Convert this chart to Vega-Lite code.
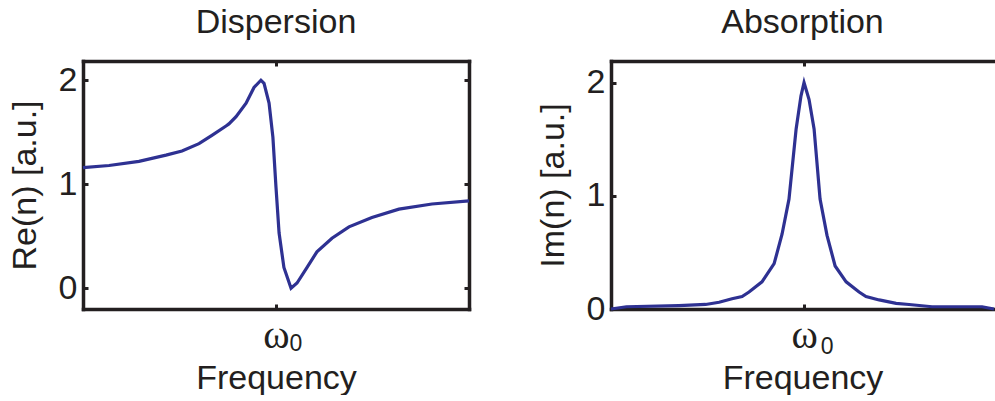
{
  "$schema": "https://vega.github.io/schema/vega-lite/v6.json",
  "autosize": {"type": "pad"},
  "padding": {"left": 8, "top": 5, "right": 0, "bottom": 0},
  "bounds": "flush",
  "spacing": 142,
  "datasets": {
    "re": [
      {"f": -1.0, "v": 1.16}, {"f": -0.865, "v": 1.18}, {"f": -0.71, "v": 1.22}, {"f": -0.57, "v": 1.28},
      {"f": -0.487, "v": 1.32}, {"f": -0.399, "v": 1.39}, {"f": -0.332, "v": 1.47}, {"f": -0.259, "v": 1.56},
      {"f": -0.244, "v": 1.58}, {"f": -0.207, "v": 1.65}, {"f": -0.155, "v": 1.78}, {"f": -0.114, "v": 1.93},
      {"f": -0.078, "v": 2.0}, {"f": -0.062, "v": 1.97}, {"f": -0.036, "v": 1.78}, {"f": -0.016, "v": 1.45},
      {"f": 0.0, "v": 0.97}, {"f": 0.016, "v": 0.53}, {"f": 0.041, "v": 0.2}, {"f": 0.078, "v": 0.0},
      {"f": 0.109, "v": 0.05}, {"f": 0.161, "v": 0.2}, {"f": 0.212, "v": 0.35}, {"f": 0.29, "v": 0.48},
      {"f": 0.378, "v": 0.59}, {"f": 0.497, "v": 0.68}, {"f": 0.637, "v": 0.76}, {"f": 0.808, "v": 0.81},
      {"f": 1.0, "v": 0.84}
    ],
    "im": [
      {"f": -1.0, "v": 0.0}, {"f": -0.92, "v": 0.02}, {"f": -0.648, "v": 0.03}, {"f": -0.51, "v": 0.04},
      {"f": -0.44, "v": 0.06}, {"f": -0.373, "v": 0.09}, {"f": -0.321, "v": 0.11}, {"f": -0.285, "v": 0.15},
      {"f": -0.218, "v": 0.24}, {"f": -0.155, "v": 0.4}, {"f": -0.114, "v": 0.66}, {"f": -0.078, "v": 0.97},
      {"f": -0.041, "v": 1.59}, {"f": -0.016, "v": 1.88}, {"f": 0.0, "v": 2.0}, {"f": 0.026, "v": 1.85},
      {"f": 0.052, "v": 1.59}, {"f": 0.083, "v": 0.97}, {"f": 0.119, "v": 0.65}, {"f": 0.161, "v": 0.38},
      {"f": 0.218, "v": 0.24}, {"f": 0.285, "v": 0.15}, {"f": 0.321, "v": 0.11}, {"f": 0.389, "v": 0.08},
      {"f": 0.477, "v": 0.05}, {"f": 0.544, "v": 0.04}, {"f": 0.663, "v": 0.02}, {"f": 0.922, "v": 0.02},
      {"f": 0.984, "v": 0.0}
    ],
    "sub": [{"f": 0, "s": "0"}]
  },
  "hconcat": [
    {
      "width": 386,
      "height": 248,
      "title": {"text": "Dispersion", "offset": 20},
      "layer": [
        {
          "data": {"name": "re"},
          "mark": {"type": "line", "color": "#2e3192", "strokeWidth": 3.2},
          "encoding": {
            "x": {"field": "f", "type": "quantitative",
              "scale": {"domain": [-1, 1], "nice": false, "zero": false},
              "axis": {"orient": "bottom", "values": [0], "labelExpr": "'ω'", "labelFont": "Liberation Serif", "labelFontSize": 40, "labelBaseline": "alphabetic", "labelPadding": 43, "labelDx": -6, "title": "Frequency", "titlePadding": 6}},
            "y": {"field": "v", "type": "quantitative",
              "scale": {"domain": [-0.2, 2.185], "nice": false, "zero": false},
              "axis": {"orient": "left", "values": [0, 1, 2], "labelPadding": 11, "title": "Re(n) [a.u.]", "titlePadding": 16}}
          }
        },
        {
          "data": {"name": "sub"},
          "mark": {"type": "text", "font": "Liberation Sans", "fontSize": 23, "color": "#231f20", "align": "center", "baseline": "alphabetic", "dx": 20, "dy": 42},
          "encoding": {
            "x": {"field": "f", "type": "quantitative", "scale": {"domain": [-1, 1], "nice": false, "zero": false}, "axis": null},
            "y": {"datum": -0.2, "type": "quantitative", "scale": {"domain": [-0.2, 2.185], "nice": false, "zero": false}, "axis": null},
            "text": {"field": "s"}
          }
        },
        {
          "data": {"name": "re"},
          "mark": {"type": "line", "opacity": 0},
          "encoding": {
            "x": {"field": "f", "type": "quantitative",
              "scale": {"domain": [-1, 1], "nice": false, "zero": false},
              "axis": {"orient": "top", "values": [0], "labels": false, "title": null}},
            "y": {"field": "v", "type": "quantitative",
              "scale": {"domain": [-0.2, 2.185], "nice": false, "zero": false},
              "axis": {"orient": "right", "values": [0, 1, 2], "labels": false, "title": null}}
          }
        }
      ],
      "resolve": {"scale": {"x": "independent", "y": "independent"}}
    },
    {
      "width": 383,
      "height": 248,
      "title": {"text": "Absorption", "offset": 20},
      "layer": [
        {
          "data": {"name": "im"},
          "mark": {"type": "line", "color": "#2e3192", "strokeWidth": 3.2},
          "encoding": {
            "x": {"field": "f", "type": "quantitative",
              "scale": {"domain": [-1, 0.984], "nice": false, "zero": false},
              "axis": {"orient": "bottom", "values": [0], "labelExpr": "'ω'", "labelFont": "Liberation Serif", "labelFontSize": 40, "labelBaseline": "alphabetic", "labelPadding": 43, "labelDx": -2, "title": "Frequency", "titlePadding": 6}},
            "y": {"field": "v", "type": "quantitative",
              "scale": {"domain": [0, 2.19], "nice": false, "zero": false},
              "axis": {"orient": "left", "values": [0, 1, 2], "labelPadding": 11, "title": "Im(n) [a.u.]", "titlePadding": 16}}
          }
        },
        {
          "data": {"name": "sub"},
          "mark": {"type": "text", "font": "Liberation Sans", "fontSize": 23, "color": "#231f20", "align": "center", "baseline": "alphabetic", "dx": 23, "dy": 45},
          "encoding": {
            "x": {"field": "f", "type": "quantitative", "scale": {"domain": [-1, 0.984], "nice": false, "zero": false}, "axis": null},
            "y": {"datum": 0, "type": "quantitative", "scale": {"domain": [0, 2.19], "nice": false, "zero": false}, "axis": null},
            "text": {"field": "s"}
          }
        },
        {
          "data": {"name": "im"},
          "mark": {"type": "line", "opacity": 0},
          "encoding": {
            "x": {"field": "f", "type": "quantitative",
              "scale": {"domain": [-1, 0.984], "nice": false, "zero": false},
              "axis": {"orient": "top", "values": [0], "labels": false, "title": null}},
            "y": {"field": "v", "type": "quantitative",
              "scale": {"domain": [0, 2.19], "nice": false, "zero": false},
              "axis": {"orient": "right", "values": [0, 1, 2], "labels": false, "ticks": false, "domain": false, "title": null}}
          }
        }
      ],
      "resolve": {"scale": {"x": "independent", "y": "independent"}}
    }
  ],
  "config": {
    "view": {"stroke": null},
    "font": "Liberation Sans",
    "axis": {
      "domainColor": "#231f20", "domainWidth": 3.5, "domainCap": "square",
      "tickColor": "#231f20", "tickWidth": 3, "tickSize": -5, "grid": false,
      "labelFont": "Liberation Sans", "labelFontSize": 34, "labelColor": "#231f20",
      "titleFont": "Liberation Sans", "titleFontSize": 34, "titleFontWeight": "normal", "titleColor": "#231f20"
    },
    "title": {"font": "Liberation Sans", "fontSize": 34, "fontWeight": "normal", "color": "#231f20"}
  }
}
